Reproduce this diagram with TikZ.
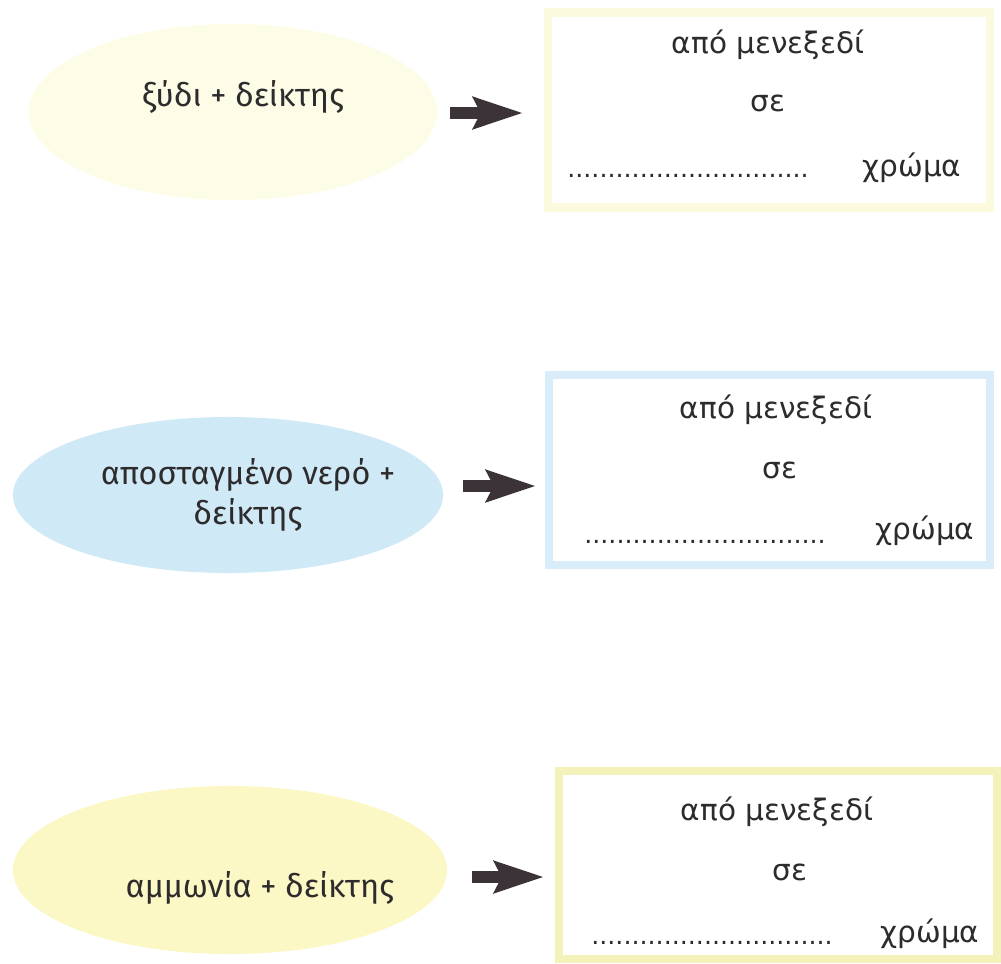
\documentclass[tikz,border=0pt]{standalone}
\usepackage{fontspec}
\setmainfont{DejaVu Sans}
\newfontfamily\ovalfont{Fira Sans}
\usetikzlibrary{arrows.meta,shapes.geometric}
\definecolor{paleyellow}{HTML}{FDFCE6}
\definecolor{lightyellow}{HTML}{FBF8C6}
\definecolor{lightblue}{HTML}{CFE9F6}
\definecolor{rimyellow}{HTML}{FBFADF}
\definecolor{rimblue}{HTML}{D8EDF9}
\definecolor{rimgreen}{HTML}{F3F2BA}
\definecolor{arrowgray}{HTML}{3B3338}
\definecolor{inkgray}{HTML}{2E2B2C}
\tikzset{
  oval/.style={ellipse, inner sep=0pt},
  ovaltext/.style={font=\ovalfont\fontsize{23}{29}\selectfont, text=inkgray, align=center, inner sep=0pt},
  answerbox/.style={rectangle, line width=6pt, fill=white, inner sep=0pt},
  boxtext/.style={font=\fontsize{21}{25}\selectfont, text=inkgray, inner sep=0pt},
  dotline/.style={font=\fontsize{18}{20}\selectfont, text=inkgray, inner sep=0pt},
  blockarrow/.style={draw=arrowgray, line width=8.5pt, -{Stealth[length=35pt,width=22pt,inset=5pt]}}
}
\begin{document}
\begin{tikzpicture}[x=0.025cm,y=-0.025cm]
	\useasboundingbox (0,0) rectangle (1001,963);
	% left: what goes into the glass
	\node (e1) at (233,112) [oval, fill=paleyellow, minimum width=10.2cm, minimum height=4.4cm] {};
	\node (e2) at (228,495) [oval, fill=lightblue, minimum width=10.75cm, minimum height=3.9cm] {};
	\node (e3) at (230,870) [oval, fill=lightyellow, minimum width=10.85cm, minimum height=4.2cm] {};
	\node (t1) at (243,97) [ovaltext] {ξύδι + δείκτης};
	\node (t2) at (248,495) [ovaltext] {αποσταγμένο νερό +\\δείκτης};
	\node (t3) at (260,888) [ovaltext] {αμμωνία + δείκτης};
	% right: the colour change
	\node (b1) at (769,110) [answerbox, draw=rimyellow, minimum width=11.05cm, minimum height=4.875cm] {};
	\node (b2) at (769.5,470) [answerbox, draw=rimblue, minimum width=11.025cm, minimum height=4.75cm] {};
	\node (b3) at (778,865) [answerbox, draw=rimgreen, minimum width=10.95cm, minimum height=4.7cm] {};
	\node (from1) at (768,45) [boxtext] {από μενεξεδί};
	\node (to1) at (768,103) [boxtext] {σε};
	\node (dots1) at (688,176) [dotline] {..............................};
	\node (col1) at (912,168) [boxtext] {χρώμα};
	\node (from2) at (776,410) [boxtext] {από μενεξεδί};
	\node (to2) at (780,470) [boxtext] {σε};
	\node (dots2) at (705,542) [dotline] {..............................};
	\node (col2) at (925,531) [boxtext] {χρώμα};
	\node (from3) at (777,812) [boxtext] {από μενεξεδί};
	\node (to3) at (790,872) [boxtext] {σε};
	\node (dots3) at (712,943) [dotline] {..............................};
	\node (col3) at (930,934) [boxtext] {χρώμα};
	% arrows between them
	\coordinate (a1) at (450,113);
	\coordinate (c1) at (523,113);
	\coordinate (a2) at (463,486);
	\coordinate (c2) at (536,486);
	\coordinate (a3) at (472,877);
	\coordinate (c3) at (544,877);
	\draw[blockarrow] (a1) -- (c1);
	\draw[blockarrow] (a2) -- (c2);
	\draw[blockarrow] (a3) -- (c3);
\end{tikzpicture}
\end{document}
